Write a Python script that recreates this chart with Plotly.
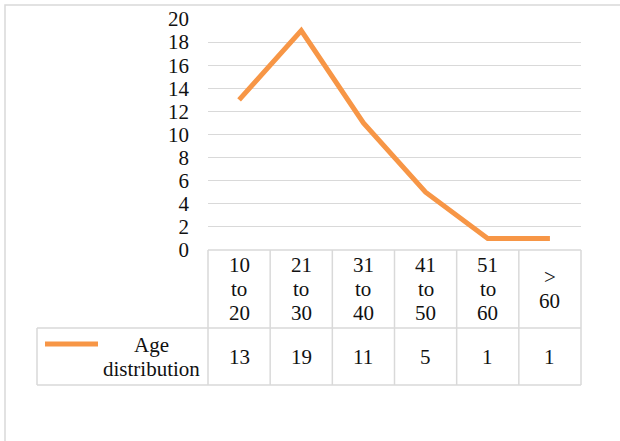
import plotly.graph_objects as go

# Age distribution data
categories = ["10 to 20", "21 to 30", "31 to 40", "41 to 50", "51 to 60", "> 60"]
values = [13, 19, 11, 5, 1, 1]
series_name = "Age distribution"
y_ticks = list(range(0, 21, 2))

W, H = 620, 441
L, R, T, B = 208, 581, 19, 250  # plot area in pixels
ORANGE = "#F79646"
GRID = "#D9D9D9"
FONT = dict(family="Liberation Serif", size=21, color="#111111")
LINE_STEP = 24  # spacing between wrapped text lines in the table


def px(x):
    return (x - L) / (R - L)


def py(y):
    return (B - y) / (B - T)


fig = go.Figure()
fig.add_trace(go.Scatter(
    x=list(range(len(categories))), y=values, mode="lines",
    line=dict(color=ORANGE, width=5), name=series_name,
    hoverinfo="skip",
))

shapes = []


def hline(y, x0, x1):
    shapes.append(dict(type="line", xref="paper", yref="paper",
                       x0=px(x0), x1=px(x1), y0=py(y), y1=py(y),
                       line=dict(color=GRID, width=1.5), layer="above"))


def vline(x, y0, y1):
    shapes.append(dict(type="line", xref="paper", yref="paper",
                       x0=px(x), x1=px(x), y0=py(y0), y1=py(y1),
                       line=dict(color=GRID, width=1.5), layer="above"))


ROW1, ROW2 = 328, 385
TABLE_LEFT = 37
hline(B, L, R)
hline(ROW1, TABLE_LEFT, R)
hline(ROW2, TABLE_LEFT, R)
vline(TABLE_LEFT, ROW1, ROW2)
# column boundaries follow the category axis
n = len(categories)
for i in range(n + 1):
    xb = L + (R - L) * i / n
    vline(xb, B, ROW2)

# outer chart border
shapes.append(dict(type="rect", xref="paper", yref="paper",
                   x0=px(5), x1=px(640), y0=py(5), y1=py(460),
                   line=dict(color=GRID, width=1.5), fillcolor="rgba(0,0,0,0)",
                   layer="below"))

# legend key inside the data table
shapes.append(dict(type="line", xref="paper", yref="paper",
                   x0=px(45), x1=px(98), y0=py(344), y1=py(344),
                   line=dict(color=ORANGE, width=5)))

annotations = []


def wrapped(text, xval, xref, yc):
    """Place each word of a wrapped cell label on its own centred line."""
    lines = text.split(" ")
    top = yc - LINE_STEP * (len(lines) - 1) / 2
    for k, ln in enumerate(lines):
        annotations.append(dict(x=xval, xref=xref, y=py(top + k * LINE_STEP),
                                yref="paper", text=ln, showarrow=False,
                                font=FONT, xanchor="center", yanchor="middle"))


for i, (cat, v) in enumerate(zip(categories, values)):
    wrapped(cat, i, "x", 289)
    annotations.append(dict(x=i, xref="x", y=py(357), yref="paper", text=str(v),
                            showarrow=False, font=FONT,
                            xanchor="center", yanchor="middle"))
wrapped(series_name, px(151), "paper", 357)

fig.update_layout(
    width=W, height=H,
    margin=dict(l=L, r=W - R, t=T, b=H - B, autoexpand=False),
    paper_bgcolor="white", plot_bgcolor="white",
    showlegend=False,
    font=FONT,
    xaxis=dict(range=[-0.5, n - 0.5], showticklabels=False, showgrid=False,
               zeroline=False, showline=False, ticks="", automargin=False),
    yaxis=dict(range=[0, 20], tickvals=y_ticks, showgrid=True, gridcolor=GRID,
               gridwidth=1.3, zeroline=False, showline=False, ticks="",
               ticklabelstandoff=18, tickfont=FONT, automargin=False),
    shapes=shapes,
    annotations=annotations,
)

fig.write_html("out.html")
